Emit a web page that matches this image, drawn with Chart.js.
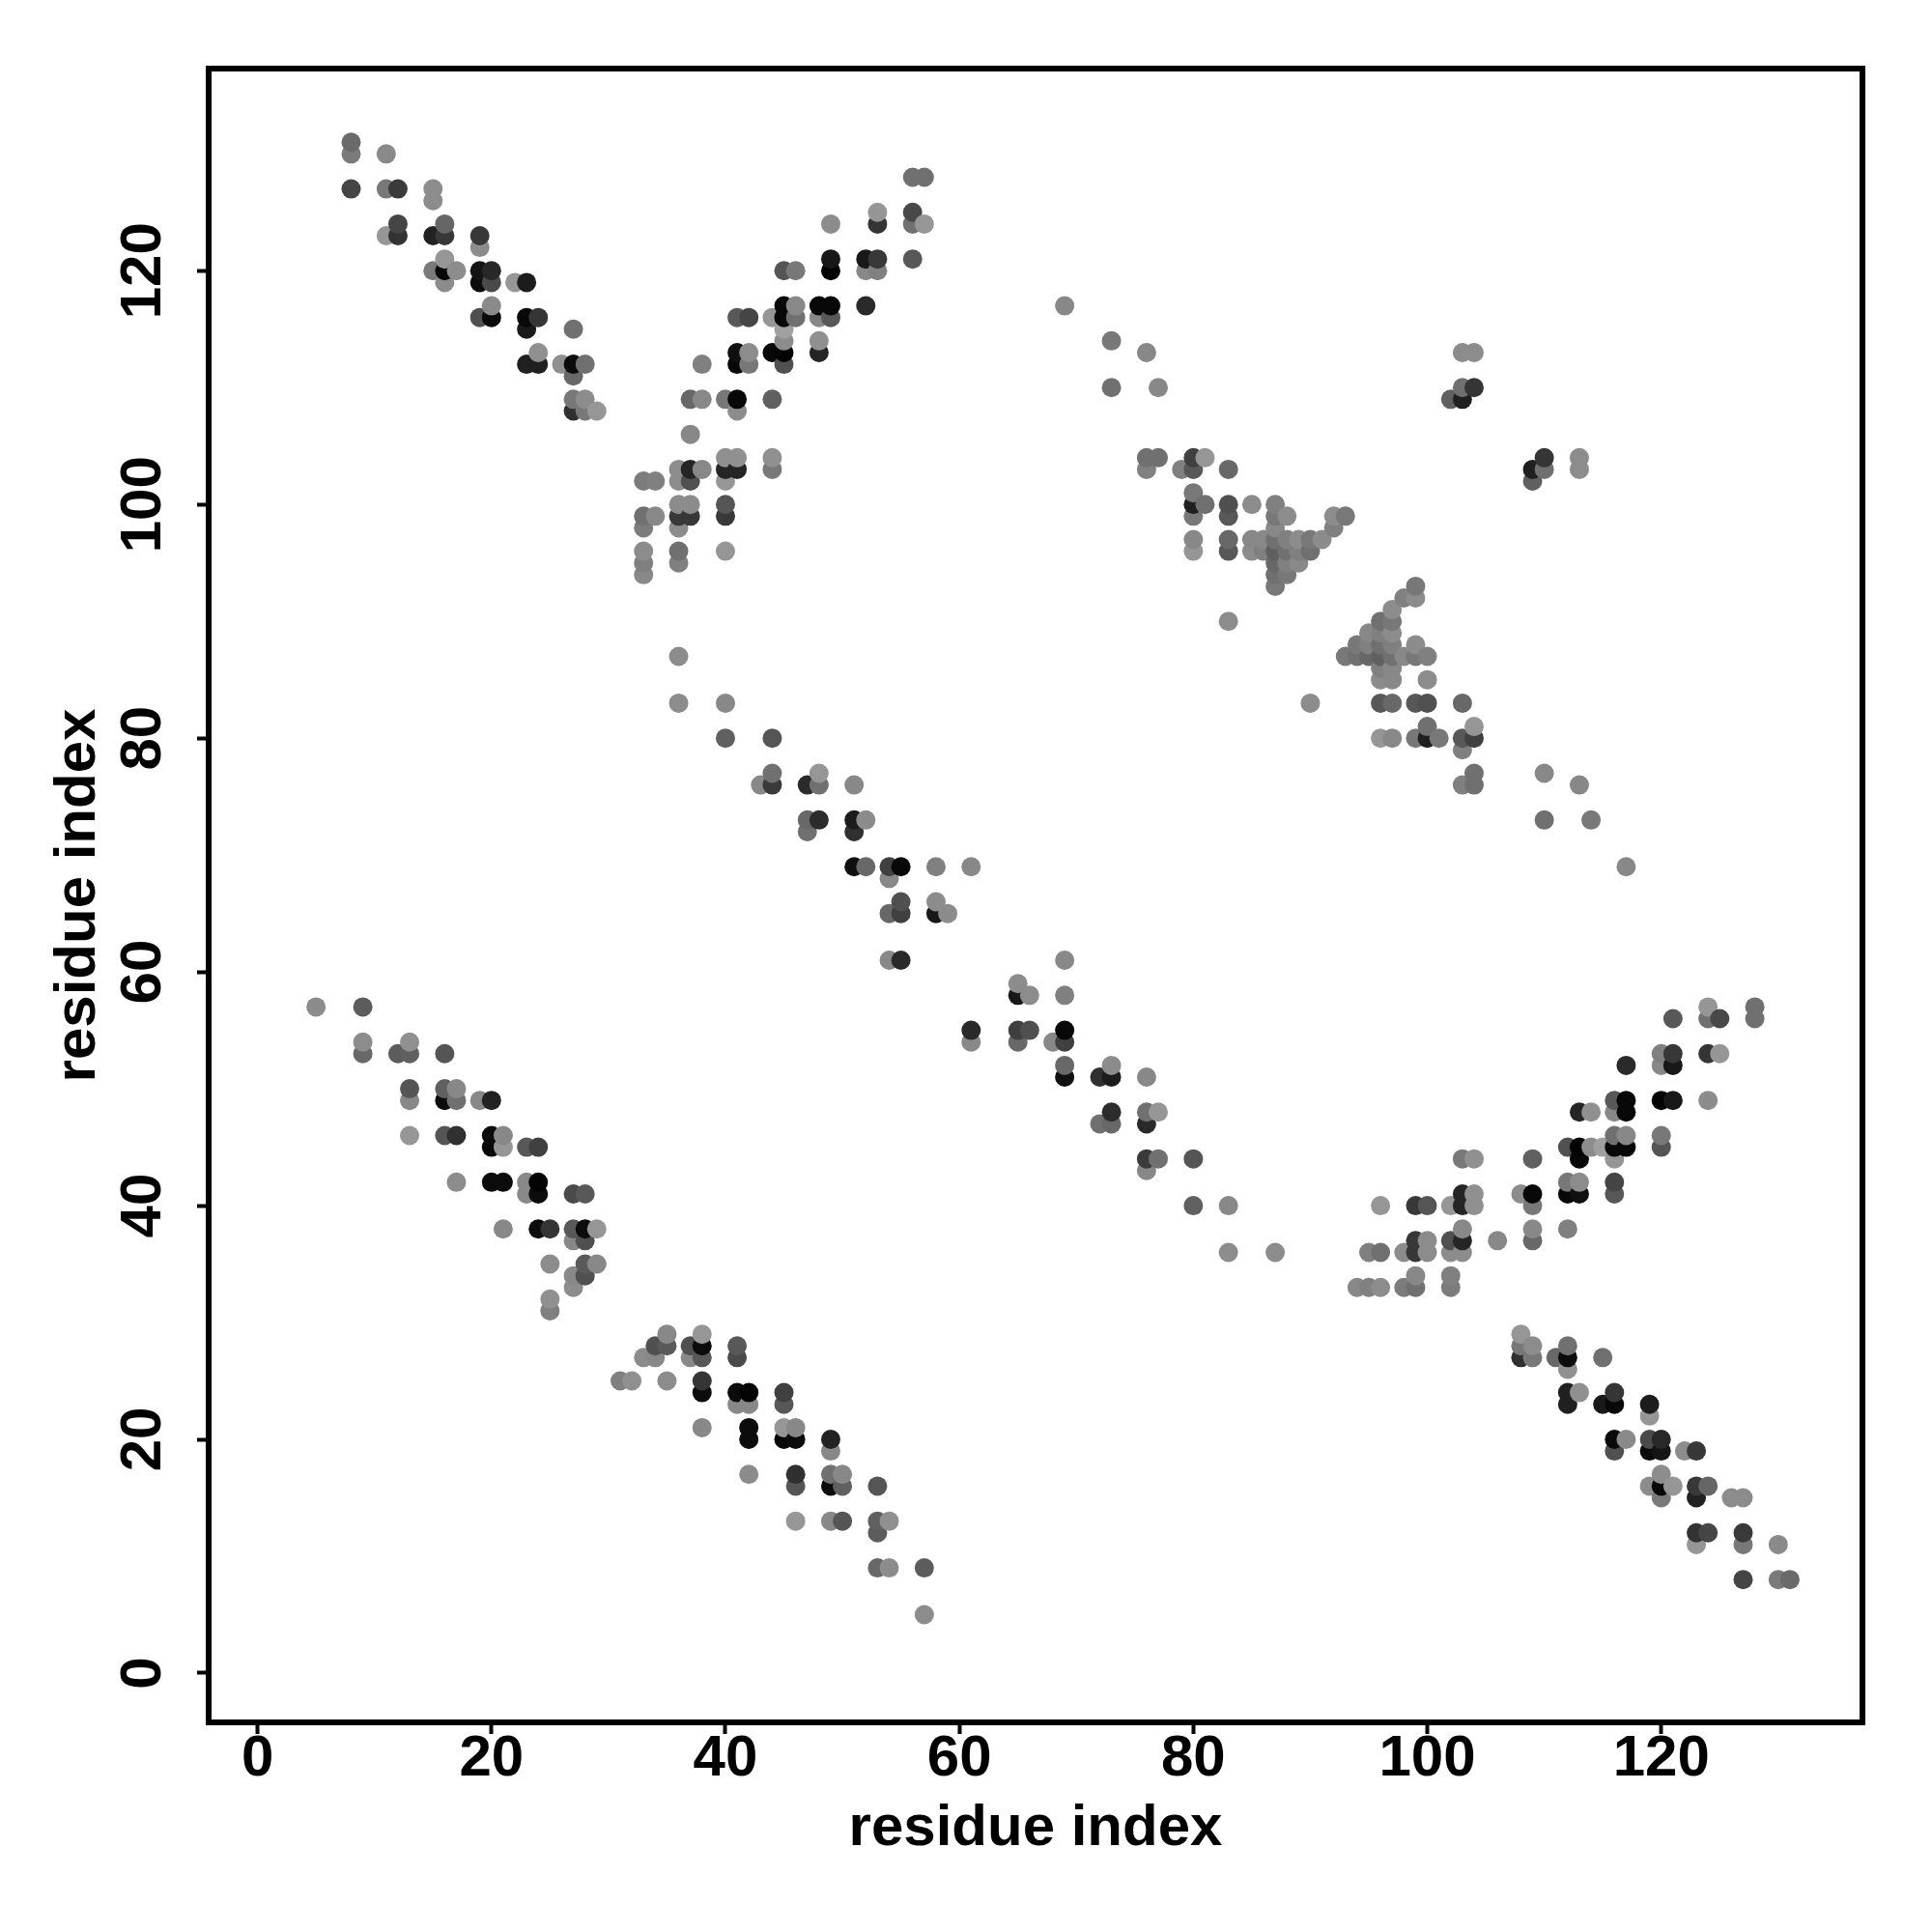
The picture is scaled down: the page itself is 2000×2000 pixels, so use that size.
<!DOCTYPE html>
<html>
<head>
<meta charset="utf-8">
<style>
  html, body { margin: 0; padding: 0; background: #fff; }
  #wrap { width: 2000px; height: 2000px; }
</style>
<script src="https://cdn.jsdelivr.net/npm/chart.js@4/dist/chart.umd.min.js"></script>
</head>
<body>
<div id="wrap"><canvas id="contactMap" width="2000" height="2000"></canvas></div>
<script>
// contact pairs, one half of the map only (the other half is the mirror)
const residueA = [
  8,8,11,8,11,12,15,15, 12,12,11,15,16,16,19,19, 16,15,16,17,16, 19,20,19,20,22,23, 20,19,20,23,24,23,27, 24,23,24,26,27,28,27, 27,28,27,28,29,
  56,57,53,56,49,53,56,57, 49,52,53,56,49,52,53,45,46, 45,46,48,49,52, 41,42,44,45,46,48,49, 45,45,48,
  41,42,44,45,48,45,41,42, 38,37,38,40,41,44,41, 37,40,41,44,44,37,38,40,41,36, 36,37,40,33,34,
  36,37,40,36,37,40,33,34,33,36, 33,36,40,33,36,33,
  76,77,76,80,81,79,80,83, 80,80,81,80,83,83,85,87,87,88, 87,92,93,92,91,90,89,88,87,86,85,80,83,
  80,83,85,86,87,88,89,90,87,88,89,87,88,87,83,
  69,73,73,76,77,103,104,103,104,102,103,
  36,36,40,40,44,44,43,44,47,48,48,51, 47,48,47,51,52,51, 51,52,54,55,58,61,54, 55,54,55,58,58,59,54,55,
  5,9,9,9,12,13,13,16, 13,13,16,17,16,17,19,20, 13,16,17,20,20,21,21,23,24, 17,20,21,23,23,24,24,27,28,
  21,24,25,27,28,29,27,28, 25,28,29,27,28,27,25,25
];
const residueB = [
  131,130,130,127,127,127,127,126, 124,123,123,123,123,124,123,122, 121,120,120,120,119, 120,120,119,119,119,119, 117,116,116,116,116,115,115, 113,112,112,112,112,112,111, 109,109,108,108,108,
  128,128,125,125,124,124,124,124, 121,121,121,121,120,120,120,120,120, 117,117,117,117,117, 116,116,116,116,116,116,116, 115,114,114,
  113,113,113,113,113,112,112,112, 112,109,109,109,109,109,108, 106,104,104,104,103,103,103,103,103,103, 102,102,102,102,102,
  100,100,100,99,99,99,99,99,98,98, 96,96,96,95,95,94,
  104,104,103,104,104,103,103,103, 101,100,100,99,100,99,100,100,99,99, 98,99,99,98,97,97,97,97,97,97,97,97,97,
  96,96,96,96,96,96,96,96,95,95,95,94,94,93,90,
  117,114,110,113,110,113,113,110,110,109,109,
  87,83,83,80,80,77,76,76,76,76,77,76, 73,73,72,73,73,72, 69,69,69,69,69,69,68, 66,65,65,66,65,65,61,61,
  57,57,54,53,53,53,54,53, 50,49,50,50,49,49,49,49, 46,46,46,46,45,46,45,45,45, 42,42,42,42,41,42,41,41,41,
  38,38,38,38,38,38,37,37, 35,35,35,34,34,33,32,31
];
const greyLevel = [
  0x6a,0x7a,0x8a,0x45,0x78,0x3a,0x8c,0x8c, 0x45,0x33,0x96,0x22,0x38,0x66,0x38,0x8c, 0x96,0x7a,0x08,0x8c,0x8c, 0x15,0x28,0x0c,0x4a,0x96,0x1c, 0x8a,0x50,0x0a,0x08,0x35,0x1a,0x70, 0x90,0x20,0x20,0x90,0x0c,0x70,0x68, 0x78,0x8c,0x30,0x78,0x96,
  0x70,0x70,0x96,0x48,0x8c,0x35,0x70,0x96, 0x18,0x18,0x38,0x58,0x04,0x88,0x80,0x55,0x78, 0x08,0x88,0x08,0x08,0x2a, 0x58,0x45,0x96,0x08,0x70,0x88,0x58, 0xa0,0x8c,0x90,
  0x10,0x8c,0x08,0x04,0x25,0x50,0x08,0x78, 0x80,0x68,0x88,0x78,0x08,0x60,0x8c, 0x88,0x90,0x90,0x90,0x78,0x25,0x88,0x25,0x25,0x8c, 0x8c,0x50,0x96,0x7c,0x80,
  0x8c,0x8c,0x55,0x38,0x38,0x38,0x70,0x88,0x7c,0x8c, 0x8c,0x70,0x96,0x80,0x80,0x88,
  0x70,0x70,0x80,0x40,0x96,0x80,0x58,0x68, 0x78,0x20,0x70,0x78,0x50,0x58,0x8c,0x80,0x78,0x8c, 0x88,0x8c,0x78,0x80,0x8c,0x78,0x8c,0x80,0x70,0x88,0x88,0x88,0x68,
  0x96,0x58,0x8c,0x80,0x60,0x70,0x80,0x70,0x68,0x80,0x88,0x70,0x78,0x78,0x8c,
  0x88,0x78,0x70,0x88,0x88,0x8c,0x8c,0x70,0x35,0x60,0x20,
  0x8c,0x8c,0x88,0x60,0x55,0x70,0x88,0x3a,0x2a,0x70,0x96,0x88, 0x68,0x2c,0x70,0x1c,0x8c,0x30, 0x10,0x68,0x40,0x08,0x80,0x88,0x88, 0x50,0x68,0x40,0x8c,0x18,0x8c,0x88,0x2a,
  0x8c,0x5c,0x8c,0x68,0x5c,0x60,0x90,0x55, 0x55,0x88,0x60,0x88,0x0c,0x70,0x88,0x22, 0x96,0x55,0x30,0x0c,0x08,0x88,0x96,0x58,0x40, 0x8c,0x0c,0x0c,0x88,0x88,0x04,0x0c,0x4a,0x58,
  0x88,0x0c,0x35,0x58,0x0c,0x96,0x88,0x50, 0x8c,0x5a,0x88,0x88,0x50,0x8c,0x90,0x80
];
const tickValues = [0, 20, 40, 60, 80, 100, 120];
const axisLabel = 'residue index';

// both halves, drawn from low index to high index so later dots sit on top
const contacts = [];
residueA.forEach((a, i) => {
    contacts.push({ x: a, y: residueB[i], g: greyLevel[i] });
    contacts.push({ x: residueB[i], y: a, g: greyLevel[i] });
});
contacts.sort((p, q) => p.x - q.x || p.y - q.y);

const labelFont = 'Liberation Sans';

const boxPlugin = {
    id: 'box',
    afterDraw(chart) {
        const { ctx, chartArea: a } = chart;
        ctx.save();
        ctx.strokeStyle = '#000';
        ctx.lineWidth = 6;
        ctx.strokeRect(a.left, a.top, a.right - a.left, a.bottom - a.top);
        ctx.restore();
    }
};

function setTicks(scale) {
    scale.ticks = tickValues.map(v => ({ value: v }));
}

new Chart(document.getElementById('contactMap'), {
    type: 'scatter',
    data: {
        datasets: [{
            data: contacts.map(p => ({ x: p.x, y: p.y })),
            pointRadius: 10,
            pointHoverRadius: 10,
            pointBorderWidth: 0,
            pointBackgroundColor: contacts.map(p => `rgb(${p.g},${p.g},${p.g})`)
        }]
    },
    plugins: [boxPlugin],
    options: {
        responsive: false,
        animation: false,
        layout: { padding: { top: 71, right: 72, left: 0, bottom: 0 } },
        plugins: { legend: { display: false }, tooltip: { enabled: false } },
        scales: {
            x: {
                type: 'linear',
                min: -4.18,
                max: 137.2,
                afterBuildTicks: setTicks,
                afterFit(scale) { scale.height = 217; },
                border: { display: false },
                grid: { drawOnChartArea: false, tickLength: 12, tickWidth: 4, tickColor: '#000' },
                ticks: {
                    color: '#000',
                    padding: -10,
                    maxRotation: 0,
                    autoSkip: false,
                    font: { family: labelFont, weight: 'bold', size: 60 }
                },
                title: {
                    display: true,
                    text: axisLabel,
                    color: '#000',
                    padding: { top: 0, bottom: 71 },
                    font: { family: labelFont, weight: 'bold', size: 60 }
                }
            },
            y: {
                type: 'linear',
                min: -4.22,
                max: 137.3,
                afterBuildTicks: setTicks,
                afterFit(scale) { scale.width = 216; },
                border: { display: false },
                grid: { drawOnChartArea: false, tickLength: 12, tickWidth: 4, tickColor: '#000' },
                ticks: {
                    color: '#000',
                    padding: 4,
                    minRotation: 90,
                    maxRotation: 90,
                    crossAlign: 'center',
                    autoSkip: false,
                    font: { family: labelFont, weight: 'bold', size: 60 }
                },
                title: {
                    display: true,
                    text: axisLabel,
                    color: '#000',
                    padding: { top: 45, bottom: 0 },
                    font: { family: labelFont, weight: 'bold', size: 60 }
                }
            }
        }
    }
});
</script>
</body>
</html>
